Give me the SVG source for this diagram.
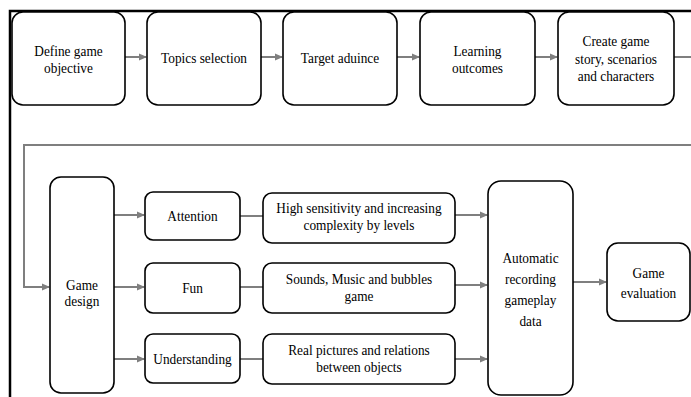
<svg xmlns="http://www.w3.org/2000/svg" width="691" height="397" viewBox="0 0 691 397">
<defs>
<marker id="ah" markerWidth="8" markerHeight="8" refX="7" refY="4" orient="auto" markerUnits="userSpaceOnUse">
<path d="M0,0.5 L8,4 L0,7.5 Z" fill="#7f7f7f"/>
</marker>
<style>
.box{fill:#fff;stroke:#000;stroke-width:1.6}
.t{font-family:'Liberation Serif','DejaVu Serif',serif;font-size:15.5px;fill:#000;text-anchor:middle}
.c{fill:none;stroke:#7f7f7f;stroke-width:2}
.a{marker-end:url(#ah)}
.frame{stroke:#000;stroke-width:2.5;fill:none}
</style>
</defs>
<path class="frame" d="M10,397 L10,11 L691,11"/>
<g id="connectors">
<line class="c a" x1="125" y1="57" x2="146" y2="57"/>
<line class="c a" x1="261" y1="57" x2="282" y2="57"/>
<line class="c a" x1="397" y1="57" x2="419" y2="57"/>
<line class="c a" x1="535" y1="57" x2="557" y2="57"/>
<line class="c" x1="674" y1="57" x2="691" y2="57"/>
<path class="c a" d="M691,145 L24,145 L24,287 L49,287"/>
<line class="c a" x1="114" y1="215" x2="144" y2="215"/>
<line class="c a" x1="114" y1="287" x2="144" y2="287"/>
<line class="c a" x1="114" y1="359" x2="144" y2="359"/>
<line class="c" x1="240" y1="216" x2="263" y2="216"/>
<line class="c" x1="240" y1="287" x2="263" y2="287"/>
<line class="c" x1="240" y1="359" x2="263" y2="359"/>
<line class="c a" x1="455" y1="215" x2="487" y2="215"/>
<line class="c a" x1="455" y1="285" x2="487" y2="285"/>
<line class="c a" x1="455" y1="359" x2="487" y2="359"/>
<line class="c a" x1="573" y1="282" x2="606" y2="282"/>
</g>
<g id="n1"><rect class="box" x="12" y="12" width="113" height="93" rx="11"/>
<text class="t" transform="translate(68.5,56) scale(0.86,1)">Define game</text><text class="t" transform="translate(68.5,73) scale(0.86,1)">objective</text></g>
<g id="n2"><rect class="box" x="147" y="12" width="114" height="93" rx="11"/>
<text class="t" transform="translate(204,63) scale(0.86,1)">Topics selection</text></g>
<g id="n3"><rect class="box" x="283" y="12" width="114" height="93" rx="11"/>
<text class="t" transform="translate(340,63) scale(0.86,1)">Target aduince</text></g>
<g id="n4"><rect class="box" x="420" y="12" width="115" height="93" rx="11"/>
<text class="t" transform="translate(477.5,56) scale(0.86,1)">Learning</text><text class="t" transform="translate(477.5,73) scale(0.86,1)">outcomes</text></g>
<g id="n5"><rect class="box" x="558" y="12" width="116" height="93" rx="11"/>
<text class="t" transform="translate(616,46) scale(0.86,1)">Create game</text><text class="t" transform="translate(616,63.5) scale(0.86,1)">story, scenarios</text><text class="t" transform="translate(616,81) scale(0.86,1)">and characters</text></g>
<g id="n6"><rect class="box" x="50" y="177" width="64" height="216" rx="11"/>
<text class="t" transform="translate(82,290) scale(0.86,1)">Game</text><text class="t" transform="translate(82,306) scale(0.86,1)">design</text></g>
<g id="n7"><rect class="box" x="145" y="192" width="95" height="48" rx="8"/>
<text class="t" transform="translate(192.5,221) scale(0.86,1)">Attention</text></g>
<g id="n8"><rect class="box" x="145" y="263" width="95" height="50" rx="8"/>
<text class="t" transform="translate(192.5,293) scale(0.86,1)">Fun</text></g>
<g id="n9"><rect class="box" x="145" y="334" width="95" height="49" rx="8"/>
<text class="t" transform="translate(192.5,364) scale(0.86,1)">Understanding</text></g>
<g id="n10"><rect class="box" x="263" y="193" width="192" height="50" rx="9"/>
<text class="t" transform="translate(359,213) scale(0.86,1)">High sensitivity and increasing</text><text class="t" transform="translate(359,230) scale(0.86,1)">complexity by levels</text></g>
<g id="n11"><rect class="box" x="263" y="263" width="192" height="50" rx="9"/>
<text class="t" transform="translate(359,284) scale(0.86,1)">Sounds, Music and bubbles</text><text class="t" transform="translate(359,301) scale(0.86,1)">game</text></g>
<g id="n12"><rect class="box" x="263" y="334" width="192" height="50" rx="9"/>
<text class="t" transform="translate(359,355) scale(0.86,1)">Real pictures and relations</text><text class="t" transform="translate(359,372) scale(0.86,1)">between objects</text></g>
<g id="n13"><rect class="box" x="488" y="181" width="85" height="214" rx="13"/>
<text class="t" transform="translate(530.5,263) scale(0.86,1)">Automatic</text><text class="t" transform="translate(530.5,284) scale(0.86,1)">recording</text><text class="t" transform="translate(530.5,305) scale(0.86,1)">gameplay</text><text class="t" transform="translate(530.5,326) scale(0.86,1)">data</text></g>
<g id="n14"><rect class="box" x="607" y="243" width="83" height="78" rx="11"/>
<text class="t" transform="translate(648.5,278) scale(0.86,1)">Game</text><text class="t" transform="translate(648.5,298) scale(0.86,1)">evaluation</text></g>
</svg>
